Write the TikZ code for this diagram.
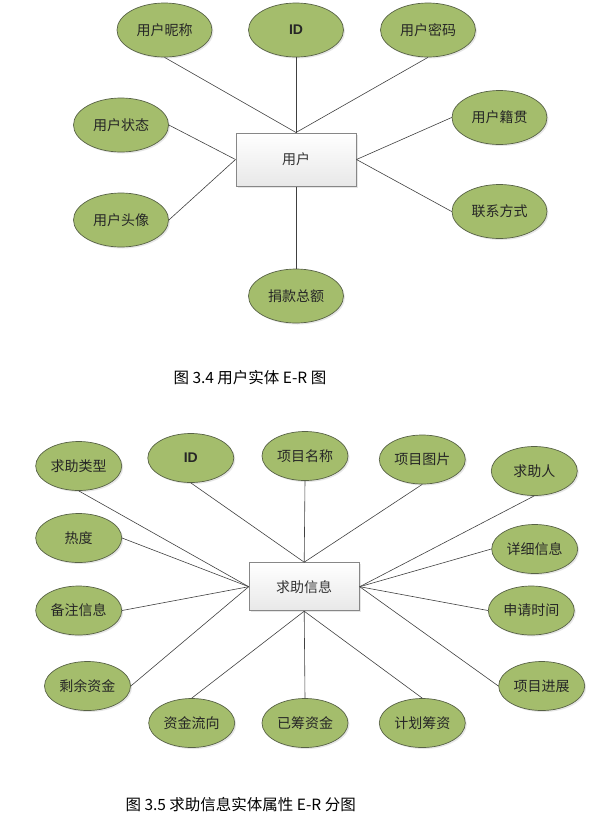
\documentclass[tikz,border=0pt]{standalone}
\usepackage{fontspec}
\setmainfont{Noto Sans CJK SC}
\newfontfamily\idfont{Liberation Sans}
\usetikzlibrary{shapes.geometric,shadows}

\definecolor{atrverde}{RGB}{164,189,108}
\definecolor{atrborde}{RGB}{88,98,70}
\definecolor{entborde}{RGB}{135,135,135}

\begin{document}
\begin{tikzpicture}[x=1pt,y=-1pt,
    atributo/.style={ellipse,draw=atrborde,line width=.7pt,fill=atrverde,
        inner sep=0pt,minimum width=95pt,minimum height=54pt,text=black!85,
        font=\fontsize{14}{16}\selectfont,
        drop shadow={opacity=.2,shadow xshift=1.5pt,shadow yshift=-1.5pt}},
    atrchico/.style={atributo,minimum width=86pt,minimum height=49pt},
    entidad/.style={rectangle,draw=entborde,line width=1pt,top color=white,
        bottom color=gray!18,minimum width=120pt,minimum height=53pt,
        text=black!80,font=\fontsize{14}{16}\selectfont,
        drop shadow={opacity=.2,shadow xshift=1.5pt,shadow yshift=-1.5pt}},
    enlace/.style={draw=black!75,line width=.6pt},
    leyenda/.style={anchor=west,font=\fontsize{15.5}{17}\selectfont}]
    \useasboundingbox (0,0) rectangle (610,823);

    % Entidad usuario y sus atributos.
    \node[entidad] (usuario) at (296,159.5) {用户};
    \node[atributo] (nick) at (164.5,30) {用户昵称};
    \node[atributo] (uid) at (296,30) {\idfont\bfseries ID};
    \node[atributo] (clave) at (428,30) {用户密码};
    \node[atributo] (estado) at (121,125) {用户状态};
    \node[atributo] (avatar) at (121,220) {用户头像};
    \node[atributo] (origen) at (499.5,117.5) {用户籍贯};
    \node[atributo] (contacto) at (499.5,211.5) {联系方式};
    \node[atributo] (donacion) at (296,296) {捐款总额};
    \foreach \a/\b in {nick.south/usuario.north,uid.south/usuario.north,
        clave.south/usuario.north,estado.east/usuario.west,
        avatar.east/usuario.west,origen.west/usuario.east,
        contacto.west/usuario.east,donacion.north/usuario.south} {
        \draw[enlace] (\a) -- (\b);
    }
    \node[leyenda] (cap1) at (170,378) {图 3.4 用户实体 E-R 图};

    % Entidad de ayuda y sus atributos.
    \node[entidad,minimum width=110pt,minimum height=48pt] (ayuda) at (304.2,586.7) {求助信息};
    \node[atrchico] (tipo) at (78.7,466) {求助类型};
    \node[atrchico] (bid) at (190.8,458) {\idfont\bfseries ID};
    \node[atrchico] (nombre) at (305,456) {项目名称};
    \node[atrchico] (imagen) at (422.3,459.5) {项目图片};
    \node[atrchico] (solicitante) at (534.3,471) {求助人};
    \node[atrchico] (calor) at (78.7,538) {热度};
    \node[atrchico] (detalle) at (534.7,549) {详细信息};
    \node[atrchico] (nota) at (78.7,610.5) {备注信息};
    \node[atrchico] (fecha) at (531.3,610.5) {申请时间};
    \node[atrchico] (resto) at (87.5,686) {剩余资金};
    \node[atrchico] (avance) at (541.7,686) {项目进展};
    \node[atrchico] (flujo) at (191.7,723) {资金流向};
    \node[atrchico] (recaudado) at (305,723) {已筹资金};
    \node[atrchico] (meta) at (422.3,723) {计划筹资};
    \foreach \a/\b in {tipo.south/ayuda.west,bid.south/ayuda.north,
        nombre.south/ayuda.north,imagen.south/ayuda.north,
        solicitante.south/ayuda.east,calor.east/ayuda.west,
        detalle.west/ayuda.east,nota.east/ayuda.west,fecha.west/ayuda.east,
        resto.east/ayuda.west,avance.west/ayuda.east,flujo.north/ayuda.south,
        recaudado.north/ayuda.south,meta.north/ayuda.south} {
        \draw[enlace] (\a) -- (\b);
    }
    \node[leyenda] (cap2) at (122,805) {图 3.5 求助信息实体属性 E-R 分图};
\end{tikzpicture}
\end{document}
